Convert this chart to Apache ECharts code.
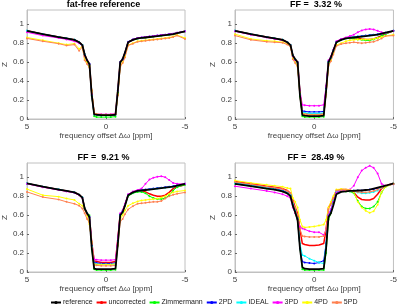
<!DOCTYPE html>
<html>
<head>
<meta charset="utf-8">
<script src="https://cdn.jsdelivr.net/npm/echarts@6/dist/echarts.min.js"></script>
<style>
  html, body { margin: 0; padding: 0; background: #fff; }
  #chart { width: 400px; height: 307px; }
</style>
</head>
<body>
<div id="chart"></div>
<script>
/* -------------------------------------------------------------------------- */
/*                      Z-spectra at four fat fractions                       */
/* -------------------------------------------------------------------------- */

// frequency offsets (ppm), shared by all curves
const ppm = [5, 4, 3, 2.5, 2, 1.7, 1.5, 1.35, 1.2, 1.05, 0.9, 0.75, 0.6, 0.3, 0, -0.3, -0.6, -0.75, -0.9,
  -1.05, -1.2, -1.4, -1.7, -2, -2.25, -2.5, -2.75, -3, -3.25, -3.5, -3.75, -4, -4.25, -4.5, -5];

const methods = ['reference', 'uncorrected', 'Zimmermann', '2PD', 'IDEAL', '3PD', '4PD', '5PD'];
const panelTitles = ['fat-free reference', 'FF =  3.32 %', 'FF =  9.21 %', 'FF =  28.49 %'];

// panel 1: fat-free reference
const refA = [0.93, 0.895, 0.865, 0.85, 0.835, 0.81, 0.78, 0.68, 0.62, 0.58, 0.25, 0.05, 0.045, 0.04, 0.04, 0.04, 0.045, 0.30, 0.60, 0.63, 0.70, 0.81, 0.835, 0.85, 0.855, 0.86, 0.865, 0.87, 0.875, 0.88, 0.885, 0.89, 0.895, 0.905, 0.925];
const uncA = [0.93, 0.895, 0.865, 0.85, 0.835, 0.81, 0.78, 0.68, 0.62, 0.58, 0.26, 0.055, 0.05, 0.045, 0.045, 0.045, 0.05, 0.30, 0.60, 0.63, 0.70, 0.81, 0.835, 0.85, 0.855, 0.86, 0.865, 0.87, 0.875, 0.88, 0.885, 0.89, 0.895, 0.905, 0.925];
const zimA = [0.93, 0.895, 0.865, 0.85, 0.835, 0.81, 0.78, 0.68, 0.62, 0.57, 0.24, 0.03, 0.02, 0.02, 0.02, 0.02, 0.025, 0.28, 0.60, 0.63, 0.70, 0.81, 0.835, 0.85, 0.855, 0.86, 0.865, 0.87, 0.875, 0.88, 0.885, 0.89, 0.895, 0.905, 0.925];
const twoA = [0.93, 0.895, 0.865, 0.85, 0.835, 0.81, 0.78, 0.68, 0.62, 0.58, 0.25, 0.05, 0.045, 0.04, 0.04, 0.04, 0.045, 0.30, 0.60, 0.63, 0.70, 0.815, 0.84, 0.855, 0.86, 0.865, 0.87, 0.875, 0.88, 0.885, 0.89, 0.895, 0.90, 0.91, 0.925];
const idealA = [0.93, 0.895, 0.865, 0.85, 0.835, 0.81, 0.78, 0.68, 0.62, 0.58, 0.25, 0.05, 0.045, 0.04, 0.04, 0.04, 0.045, 0.30, 0.60, 0.63, 0.70, 0.81, 0.835, 0.85, 0.855, 0.86, 0.865, 0.87, 0.875, 0.88, 0.885, 0.89, 0.895, 0.905, 0.925];
const threeA = [0.915, 0.88, 0.855, 0.84, 0.82, 0.80, 0.77, 0.67, 0.62, 0.58, 0.26, 0.055, 0.05, 0.05, 0.05, 0.05, 0.055, 0.30, 0.60, 0.63, 0.70, 0.81, 0.84, 0.855, 0.86, 0.865, 0.87, 0.875, 0.88, 0.885, 0.89, 0.895, 0.90, 0.91, 0.925];
const fourA = [0.86, 0.83, 0.80, 0.785, 0.795, 0.74, 0.765, 0.63, 0.60, 0.55, 0.30, 0.06, 0.05, 0.045, 0.045, 0.045, 0.05, 0.26, 0.56, 0.60, 0.66, 0.78, 0.80, 0.82, 0.825, 0.83, 0.835, 0.84, 0.845, 0.85, 0.855, 0.86, 0.87, 0.885, 0.855];
const fiveA = [0.85, 0.82, 0.795, 0.775, 0.785, 0.72, 0.76, 0.62, 0.58, 0.54, 0.30, 0.06, 0.05, 0.045, 0.045, 0.045, 0.05, 0.25, 0.55, 0.59, 0.65, 0.775, 0.795, 0.815, 0.82, 0.825, 0.83, 0.835, 0.84, 0.845, 0.85, 0.855, 0.865, 0.88, 0.845];

// panel 2: FF = 3.32 %
const refB = [0.93, 0.895, 0.865, 0.85, 0.835, 0.81, 0.78, 0.67, 0.63, 0.60, 0.25, 0.04, 0.035, 0.03, 0.03, 0.03, 0.035, 0.30, 0.60, 0.65, 0.72, 0.81, 0.835, 0.85, 0.855, 0.86, 0.865, 0.87, 0.875, 0.88, 0.885, 0.89, 0.90, 0.91, 0.93];
const uncB = [0.93, 0.895, 0.865, 0.85, 0.835, 0.81, 0.78, 0.67, 0.63, 0.60, 0.26, 0.06, 0.055, 0.05, 0.05, 0.05, 0.055, 0.30, 0.60, 0.65, 0.72, 0.81, 0.84, 0.855, 0.86, 0.86, 0.855, 0.845, 0.84, 0.84, 0.845, 0.86, 0.88, 0.90, 0.93];
const zimB = [0.93, 0.895, 0.865, 0.85, 0.835, 0.81, 0.78, 0.67, 0.63, 0.59, 0.24, 0.03, 0.02, 0.02, 0.02, 0.02, 0.025, 0.28, 0.60, 0.65, 0.72, 0.81, 0.835, 0.85, 0.85, 0.845, 0.84, 0.835, 0.83, 0.83, 0.84, 0.855, 0.875, 0.895, 0.93];
const twoB = [0.93, 0.895, 0.865, 0.85, 0.835, 0.81, 0.78, 0.67, 0.63, 0.60, 0.27, 0.085, 0.08, 0.075, 0.075, 0.075, 0.08, 0.32, 0.61, 0.65, 0.72, 0.815, 0.84, 0.855, 0.86, 0.865, 0.87, 0.875, 0.88, 0.885, 0.89, 0.895, 0.90, 0.91, 0.93];
const idealB = [0.93, 0.895, 0.865, 0.85, 0.835, 0.81, 0.78, 0.67, 0.63, 0.60, 0.26, 0.07, 0.065, 0.06, 0.06, 0.06, 0.065, 0.31, 0.60, 0.65, 0.72, 0.81, 0.84, 0.855, 0.86, 0.865, 0.87, 0.87, 0.875, 0.88, 0.885, 0.89, 0.90, 0.91, 0.93];
const threeB = [0.925, 0.89, 0.86, 0.845, 0.83, 0.805, 0.775, 0.66, 0.62, 0.60, 0.30, 0.15, 0.145, 0.14, 0.14, 0.14, 0.15, 0.35, 0.62, 0.66, 0.73, 0.82, 0.845, 0.86, 0.875, 0.89, 0.915, 0.935, 0.945, 0.95, 0.945, 0.93, 0.915, 0.905, 0.93];
const fourB = [0.895, 0.845, 0.825, 0.82, 0.81, 0.795, 0.77, 0.64, 0.60, 0.56, 0.28, 0.06, 0.05, 0.045, 0.045, 0.045, 0.05, 0.27, 0.57, 0.62, 0.69, 0.78, 0.80, 0.82, 0.83, 0.835, 0.84, 0.84, 0.84, 0.84, 0.845, 0.855, 0.865, 0.875, 0.89];
const fiveB = [0.88, 0.835, 0.815, 0.81, 0.805, 0.785, 0.765, 0.63, 0.59, 0.55, 0.28, 0.06, 0.05, 0.045, 0.045, 0.045, 0.05, 0.26, 0.56, 0.61, 0.68, 0.77, 0.79, 0.80, 0.805, 0.81, 0.805, 0.80, 0.805, 0.81, 0.815, 0.83, 0.85, 0.875, 0.88];

// panel 3: FF = 9.21 %
const refC = [0.935, 0.90, 0.87, 0.855, 0.84, 0.815, 0.785, 0.67, 0.62, 0.58, 0.25, 0.035, 0.03, 0.03, 0.03, 0.03, 0.035, 0.30, 0.60, 0.63, 0.70, 0.81, 0.84, 0.855, 0.86, 0.865, 0.87, 0.875, 0.88, 0.885, 0.89, 0.895, 0.90, 0.91, 0.93];
const uncC = [0.935, 0.90, 0.87, 0.855, 0.84, 0.815, 0.785, 0.67, 0.62, 0.58, 0.30, 0.12, 0.11, 0.10, 0.10, 0.10, 0.11, 0.35, 0.61, 0.64, 0.71, 0.81, 0.84, 0.86, 0.86, 0.845, 0.825, 0.81, 0.80, 0.80, 0.81, 0.84, 0.88, 0.90, 0.92];
const zimC = [0.935, 0.90, 0.87, 0.855, 0.84, 0.815, 0.785, 0.67, 0.62, 0.60, 0.24, 0.03, 0.02, 0.02, 0.02, 0.02, 0.025, 0.28, 0.60, 0.63, 0.70, 0.80, 0.83, 0.845, 0.845, 0.83, 0.80, 0.78, 0.77, 0.77, 0.78, 0.81, 0.86, 0.895, 0.92];
const twoC = [0.935, 0.90, 0.87, 0.855, 0.84, 0.815, 0.785, 0.67, 0.62, 0.58, 0.28, 0.10, 0.095, 0.09, 0.09, 0.09, 0.095, 0.33, 0.61, 0.64, 0.71, 0.815, 0.845, 0.86, 0.865, 0.87, 0.875, 0.88, 0.885, 0.89, 0.895, 0.90, 0.905, 0.915, 0.93];
const idealC = [0.935, 0.90, 0.87, 0.855, 0.84, 0.815, 0.785, 0.67, 0.62, 0.58, 0.27, 0.09, 0.085, 0.08, 0.08, 0.08, 0.085, 0.32, 0.60, 0.64, 0.71, 0.81, 0.84, 0.855, 0.86, 0.865, 0.87, 0.875, 0.88, 0.885, 0.89, 0.895, 0.90, 0.91, 0.93];
const threeC = [0.93, 0.895, 0.865, 0.85, 0.835, 0.81, 0.78, 0.66, 0.61, 0.58, 0.32, 0.135, 0.13, 0.125, 0.125, 0.125, 0.13, 0.36, 0.62, 0.65, 0.72, 0.82, 0.85, 0.865, 0.88, 0.93, 0.975, 0.995, 1.005, 1.01, 1.0, 0.97, 0.94, 0.93, 0.93];
const fourC = [0.875, 0.81, 0.795, 0.775, 0.76, 0.72, 0.70, 0.66, 0.60, 0.50, 0.32, 0.085, 0.08, 0.08, 0.08, 0.08, 0.085, 0.30, 0.56, 0.60, 0.65, 0.70, 0.725, 0.745, 0.755, 0.76, 0.765, 0.77, 0.775, 0.785, 0.80, 0.825, 0.84, 0.85, 0.86];
const fiveC = [0.845, 0.79, 0.765, 0.74, 0.72, 0.70, 0.67, 0.62, 0.56, 0.52, 0.30, 0.075, 0.07, 0.065, 0.065, 0.065, 0.07, 0.28, 0.53, 0.56, 0.61, 0.66, 0.695, 0.72, 0.725, 0.73, 0.735, 0.74, 0.74, 0.75, 0.775, 0.80, 0.815, 0.825, 0.84];

// panel 4: FF = 28.49 %
const refD = [0.93, 0.905, 0.88, 0.87, 0.85, 0.83, 0.80, 0.70, 0.63, 0.55, 0.25, 0.05, 0.035, 0.03, 0.03, 0.03, 0.035, 0.25, 0.58, 0.62, 0.70, 0.82, 0.845, 0.85, 0.855, 0.855, 0.86, 0.86, 0.865, 0.87, 0.88, 0.89, 0.90, 0.91, 0.935];
const uncD = [0.955, 0.93, 0.905, 0.895, 0.88, 0.86, 0.83, 0.76, 0.68, 0.62, 0.45, 0.30, 0.29, 0.28, 0.28, 0.285, 0.30, 0.45, 0.68, 0.72, 0.78, 0.86, 0.87, 0.87, 0.865, 0.84, 0.79, 0.765, 0.76, 0.76, 0.775, 0.82, 0.88, 0.91, 0.935];
const zimD = [0.93, 0.905, 0.88, 0.87, 0.85, 0.83, 0.80, 0.70, 0.62, 0.55, 0.25, 0.03, 0.02, 0.02, 0.02, 0.02, 0.02, 0.20, 0.55, 0.62, 0.72, 0.84, 0.85, 0.85, 0.85, 0.83, 0.75, 0.69, 0.67, 0.67, 0.69, 0.74, 0.84, 0.90, 0.93];
const twoD = [0.94, 0.915, 0.89, 0.88, 0.86, 0.84, 0.81, 0.71, 0.64, 0.56, 0.25, 0.11, 0.10, 0.095, 0.09, 0.10, 0.12, 0.30, 0.60, 0.65, 0.74, 0.84, 0.855, 0.86, 0.86, 0.86, 0.86, 0.86, 0.865, 0.87, 0.875, 0.885, 0.90, 0.91, 0.93];
const idealD = [0.94, 0.915, 0.89, 0.875, 0.855, 0.835, 0.81, 0.72, 0.65, 0.57, 0.30, 0.18, 0.17, 0.14, 0.12, 0.10, 0.09, 0.30, 0.60, 0.66, 0.75, 0.85, 0.86, 0.86, 0.855, 0.85, 0.84, 0.83, 0.83, 0.835, 0.845, 0.86, 0.89, 0.91, 0.93];
const threeD = [0.905, 0.88, 0.855, 0.84, 0.82, 0.80, 0.78, 0.68, 0.62, 0.55, 0.48, 0.46, 0.45, 0.43, 0.42, 0.42, 0.39, 0.45, 0.60, 0.66, 0.74, 0.84, 0.855, 0.86, 0.87, 0.91, 1.0, 1.07, 1.10, 1.12, 1.10, 1.04, 0.93, 0.91, 0.925];
const fourD = [0.965, 0.94, 0.92, 0.91, 0.90, 0.885, 0.88, 0.78, 0.74, 0.68, 0.55, 0.48, 0.47, 0.475, 0.48, 0.49, 0.50, 0.55, 0.68, 0.74, 0.80, 0.87, 0.875, 0.87, 0.865, 0.84, 0.74, 0.68, 0.645, 0.625, 0.64, 0.71, 0.84, 0.90, 0.93];
const fiveD = [0.95, 0.925, 0.90, 0.89, 0.875, 0.855, 0.83, 0.74, 0.68, 0.60, 0.45, 0.38, 0.375, 0.37, 0.37, 0.37, 0.38, 0.45, 0.66, 0.72, 0.78, 0.86, 0.865, 0.865, 0.86, 0.85, 0.845, 0.84, 0.84, 0.845, 0.855, 0.87, 0.89, 0.91, 0.93];

const panels = [
  [refA, uncA, zimA, twoA, idealA, threeA, fourA, fiveA],
  [refB, uncB, zimB, twoB, idealB, threeB, fourB, fiveB],
  [refC, uncC, zimC, twoC, idealC, threeC, fourC, fiveC],
  [refD, uncD, zimD, twoD, idealD, threeD, fourD, fiveD]
];

const colors = ['#000000', '#ff0000', '#00ff00', '#0000ff', '#00ffff', '#ff00ff', '#ffff00', '#ff8050'];
const font = 'Liberation Sans, Arial, Helvetica, sans-serif';
const axisGray = '#c0c0c0';
const textGray = '#404040';

const chart = echarts.init(document.getElementById('chart'), null, { renderer: 'canvas' });

const grids = [
  { left: 22, top: 10, width: 163, height: 109 },
  { left: 235, top: 10, width: 162, height: 109 },
  { left: 22, top: 163, width: 163, height: 109 },
  { left: 235, top: 163, width: 162, height: 109 }
];

const titles = panelTitles.map((text, i) => ({
  text,
  left: grids[i].left + grids[i].width / 2,
  top: grids[i].top - 10,
  textAlign: 'center',
  padding: 0,
  textStyle: { fontFamily: font, fontSize: 9, fontWeight: 'bold', color: '#000' }
}));

const xAxes = grids.map((g, i) => ({
  type: 'value',
  gridIndex: i,
  min: -5,
  max: 5,
  interval: 5,
  inverse: true,
  name: 'frequency offset \u0394\u03c9 [ppm]',
  nameLocation: 'middle',
  nameGap: 12,
  nameTextStyle: { fontFamily: font, fontSize: 8, color: textGray },
  axisLine: { onZero: false, lineStyle: { color: axisGray } },
  axisTick: { inside: true, length: 2, lineStyle: { color: '#666' } },
  axisLabel: { fontFamily: font, fontSize: 8, color: textGray, margin: 4 },
  splitLine: { show: false }
}));

const yAxes = grids.map((g, i) => ({
  type: 'value',
  gridIndex: i,
  min: 0,
  max: 1.15,
  interval: 0.2,
  name: 'Z',
  nameLocation: 'middle',
  nameGap: 16,
  nameTextStyle: { fontFamily: font, fontSize: 8, color: textGray },
  axisLine: { onZero: false, lineStyle: { color: axisGray } },
  axisTick: { inside: true, length: 2, lineStyle: { color: '#666' } },
  axisLabel: { fontFamily: font, fontSize: 8, color: textGray, margin: 3, showMaxLabel: false },
  splitLine: { show: false }
}));

const series = [];
panels.forEach((curves, p) => {
  // draw reference last so it sits on top
  const order = [1, 2, 3, 4, 5, 6, 7, 0];
  order.forEach(m => {
    const isRef = m === 0;
    const isUnc = m === 1;
    series.push({
      name: methods[m],
      type: 'line',
      xAxisIndex: p,
      yAxisIndex: p,
      data: ppm.map((x, k) => [x, curves[m][k]]),
      symbol: isRef || isUnc ? 'none' : 'circle',
      symbolSize: 2,
      showSymbol: !(isRef || isUnc),
      color: colors[m],
      itemStyle: { color: colors[m] },
      lineStyle: { color: colors[m], width: isRef ? 1.8 : isUnc ? 1.5 : 1 },
      z: isRef ? 5 : 2,
      silent: true
    });
  });
});

chart.setOption({
  animation: false,
  backgroundColor: '#fff',
  title: titles,
  grid: grids.map(g => ({ ...g, show: true, borderColor: axisGray, borderWidth: 1, containLabel: false })),
  xAxis: xAxes,
  yAxis: yAxes,
  legend: {
    data: methods,
    left: 50,
    top: 299,
    padding: 0,
    itemWidth: 10,
    itemHeight: 4,
    itemGap: 3,
    textStyle: { fontFamily: font, fontSize: 7, color: '#222', padding: [0, 0, 0, -3] }
  },
  series
});
</script>
</body>
</html>
